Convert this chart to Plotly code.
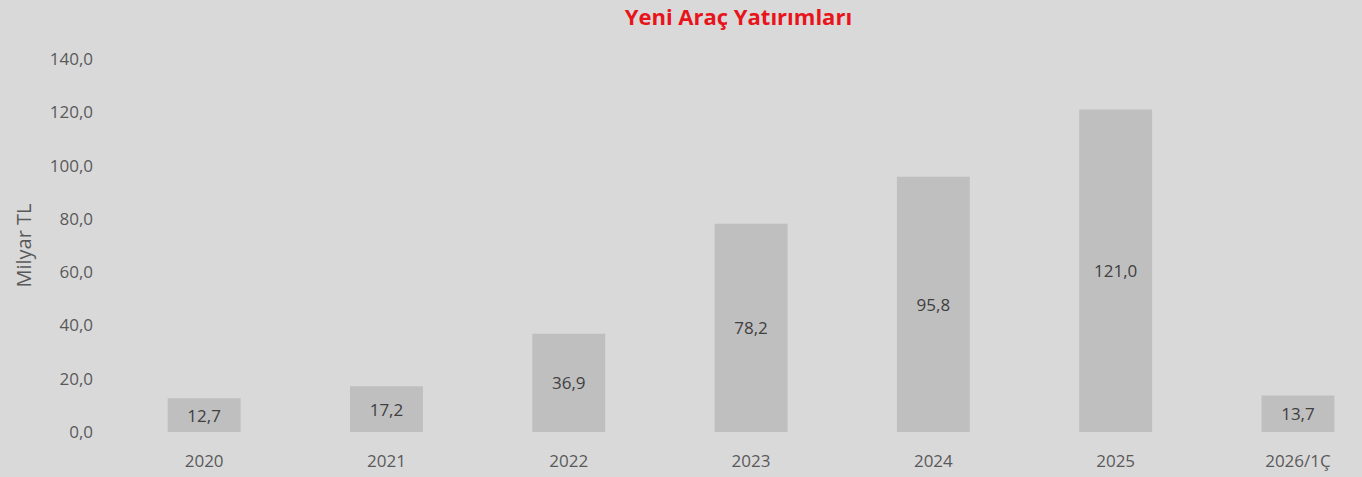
import plotly.graph_objects as go

categories = ["2020", "2021", "2022", "2023", "2024", "2025", "2026/1Ç"]
values = [12.7, 17.2, 36.9, 78.2, 95.8, 121.0, 13.7]
y_ticks = [0, 20, 40, 60, 80, 100, 120, 140]

labels = [f"{v:.1f}".replace(".", ",") for v in values]

FONT = "Open Sans, Noto Sans, sans-serif"
TXT = "#595959"

fig = go.Figure(
    go.Bar(
        x=list(range(len(categories))),
        y=values,
        text=labels,
        textposition="inside",
        insidetextanchor="middle",
        constraintext="none",
        textfont=dict(family=FONT, size=17, color="#404040"),
        marker=dict(color="#bfbfbf", line=dict(width=0)),
        width=0.4,
        hoverinfo="skip",
    )
)

fig.update_layout(
    width=1362,
    height=477,
    paper_bgcolor="#d9d9d9",
    plot_bgcolor="#d9d9d9",
    margin=dict(l=113, r=0, t=59, b=45),
    separators=",.",
    showlegend=False,
    title=dict(
        text="<b>Yeni Araç Yatırımları</b>",
        x=682 / 1362,
        xref="paper",
        xanchor="center",
        y=1 - 17 / 477,
        yanchor="middle",
        font=dict(family=FONT, size=22, color="#e8141b"),
    ),
    font=dict(family=FONT, size=17, color=TXT),
)

fig.update_xaxes(
    tickmode="array",
    tickvals=list(range(len(categories))),
    ticktext=categories,
    range=[-0.5, -0.5 + (1362 - 113) / 182.3],
    showgrid=False,
    showline=False,
    zeroline=False,
    ticks="",
    ticklabelstandoff=17,
    tickfont=dict(family=FONT, size=17, color=TXT),
)
fig.update_yaxes(
    range=[0, 140],
    tickmode="array",
    tickvals=y_ticks,
    tickformat=".1f",
    showgrid=False,
    showline=False,
    zeroline=False,
    ticks="",
    ticklabelstandoff=19,
    tickfont=dict(family=FONT, size=17, color=TXT),
    title=dict(text="Milyar TL", font=dict(family=FONT, size=20, color=TXT), standoff=12),
)

fig.write_html(
    "out.html",
    config={"displayModeBar": False},
    post_script="document.body.style.margin='0';document.body.style.background='#d9d9d9';",
)
